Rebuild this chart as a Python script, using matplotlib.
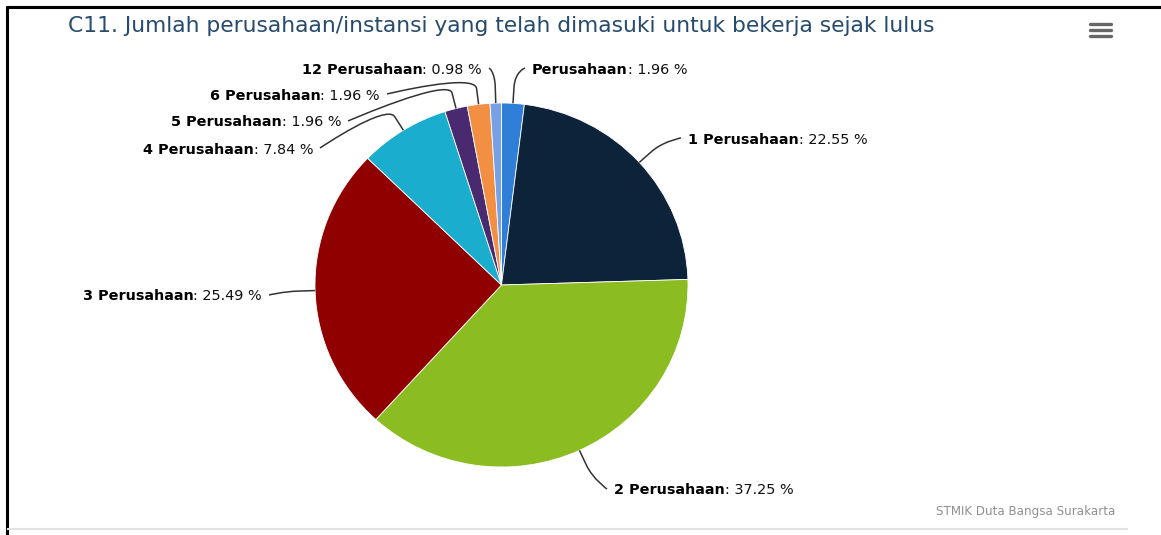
import numpy as np
import matplotlib.pyplot as plt
from matplotlib.path import Path
from matplotlib.patches import PathPatch

W, H = 1161, 535

title = 'C11. Jumlah perusahaan/instansi yang telah dimasuki untuk bekerja sejak lulus'
credit = 'STMIK Duta Bangsa Surakarta'

labels = ['Perusahaan', '1 Perusahaan', '2 Perusahaan', '3 Perusahaan',
          '4 Perusahaan', '5 Perusahaan', '6 Perusahaan', '12 Perusahaan']
values = [1.96, 22.55, 37.25, 25.49, 7.84, 1.96, 1.96, 0.98]
colors = ['#2f7ed8', '#0d233a', '#8bbc21', '#910000',
          '#1aadce', '#492970', '#f28f43', '#77a1e5']

# where each data label sits (pixels from top-left) and which side of the pie
label_pos = [(532, 68, 'left'), (688, 138, 'left'), (614, 489, 'left'),
             (262, 295, 'right'), (313, 148, 'right'), (341, 121, 'right'),
             (380, 94, 'right'), (482, 68, 'right')]

LABEL_FS = 10.4

fig = plt.figure(figsize=(W / 100, H / 100), dpi=100)
fig.patch.set_facecolor('white')

# pie box, slightly wider than tall like the screenshot
px0, px1, py0, py1 = 315, 688, 103, 467
pie_ax = fig.add_axes([px0 / W, 1 - py1 / H, (px1 - px0) / W, (py1 - py0) / H])
wedges, _ = pie_ax.pie(values, colors=colors, startangle=90, counterclock=False,
                       radius=1, wedgeprops=dict(edgecolor='white', linewidth=0.6))
pie_ax.set_aspect('auto')
pie_ax.set_xlim(-1, 1)
pie_ax.set_ylim(-1, 1)
pie_ax.axis('off')

# overlay in pixel coords for text, connectors and decorations
ov = fig.add_axes([0, 0, 1, 1])
ov.set_xlim(0, W)
ov.set_ylim(H, 0)
ov.axis('off')
ov.patch.set_visible(False)

# frame bits from the screenshot
ov.plot([6, W], [7, 7], color='black', lw=2.2, solid_capstyle='butt')
ov.plot([7, 7], [6, H], color='black', lw=2.2, solid_capstyle='butt')
ov.plot([8, 1127], [529, 529], color='#e3e3e3', lw=1.5)

ov.text(68, 26, title, ha='left', va='center', fontsize=15.7, color='#274b6d')

# export menu icon
for yy in [24, 30, 36]:
    ov.plot([1090, 1111], [yy, yy], color='#666666', lw=2.4, solid_capstyle='round')

ov.text(1115, 511, credit, ha='right', va='center', fontsize=8.6, color='#909090')

fig.canvas.draw()
r = fig.canvas.get_renderer()
to_ov = ov.transData.inverted()

cx, cy = to_ov.transform(pie_ax.transData.transform((0, 0)))
for w, name, v, (lx, ly, side) in zip(wedges, labels, values, label_pos):
    mid = np.deg2rad((w.theta1 + w.theta2) / 2)
    ex, ey = to_ov.transform(pie_ax.transData.transform((np.cos(mid), np.sin(mid))))
    d = np.array([ex - cx, ey - cy])
    d = d / np.linalg.norm(d)
    bx, by = ex + 16 * d[0], ey + 16 * d[1]
    sx = lx - 7 if side == 'left' else lx + 7
    verts = [(sx, ly), (sx, ly), (2 * bx - ex, 2 * by - ey), (bx, by), (ex, ey)]
    codes = [Path.MOVETO, Path.CURVE4, Path.CURVE4, Path.CURVE4, Path.LINETO]
    ov.add_patch(PathPatch(Path(verts, codes), fill=False, edgecolor='#333333', lw=1.1))

    pct = ': %.2f %%' % v
    if side == 'left':
        t1 = ov.text(lx, ly, name, ha='left', va='center_baseline',
                     fontsize=LABEL_FS, fontweight='bold', color='black')
        x2 = to_ov.transform((t1.get_window_extent(r).x1, 0))[0]
        ov.text(x2, ly, pct, ha='left', va='center_baseline',
                fontsize=LABEL_FS, color='#111111')
    else:
        t2 = ov.text(lx, ly, pct, ha='right', va='center_baseline',
                     fontsize=LABEL_FS, color='#111111')
        x1 = to_ov.transform((t2.get_window_extent(r).x0, 0))[0]
        ov.text(x1, ly, name, ha='right', va='center_baseline',
                fontsize=LABEL_FS, fontweight='bold', color='black')

plt.savefig('out.png', dpi=100)
